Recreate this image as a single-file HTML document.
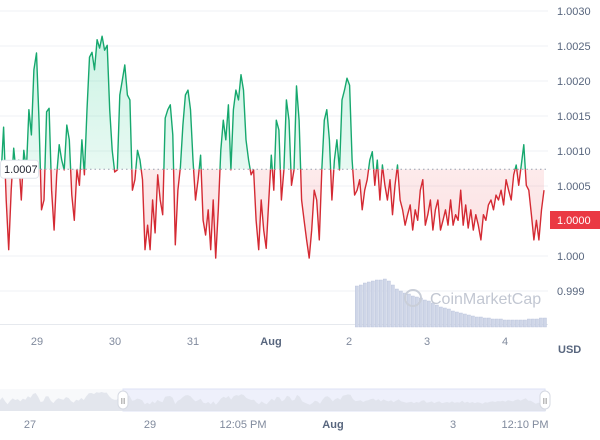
<!DOCTYPE html>
<html><head><meta charset="utf-8"><style>
body{margin:0;background:#fff;width:600px;height:435px;overflow:hidden;font-family:"Liberation Sans",sans-serif}
svg text{font-family:"Liberation Sans",sans-serif}
</style></head><body>
<svg id="c" width="600" height="435" xmlns="http://www.w3.org/2000/svg">
<defs>
<linearGradient id="gg" x1="0" y1="0" x2="0" y2="1"><stop offset="0" stop-color="#16c784" stop-opacity="0.22"/><stop offset="1" stop-color="#16c784" stop-opacity="0.02"/></linearGradient>
<linearGradient id="rg" x1="0" y1="0" x2="0" y2="1"><stop offset="0" stop-color="#ea3943" stop-opacity="0.02"/><stop offset="1" stop-color="#ea3943" stop-opacity="0.16"/></linearGradient>
</defs>
<g id="grid"></g><g id="vol"></g><g id="wm"></g><g id="series"></g><g id="axes"></g><g id="nav"></g>
</svg>
<script>
const values=[1.00066,1.00134,1.00030,0.99959,1.00044,1.00104,1.00066,1.00087,1.00030,1.00101,1.00073,1.00159,1.00123,1.00216,1.00240,1.00144,1.00016,1.00030,1.00156,1.00161,1.00044,0.99987,1.00066,1.00109,1.00087,1.00073,1.00137,1.00116,1.00037,1.00001,1.00073,1.00051,1.00116,1.00066,1.00159,1.00234,1.00241,1.00216,1.00259,1.00247,1.00264,1.00244,1.00251,1.00159,1.00101,1.00070,1.00073,1.00180,1.00201,1.00223,1.00180,1.00173,1.00044,1.00059,1.00101,1.00087,1.00059,0.99959,0.99994,0.99959,1.00030,0.99983,1.00066,1.00030,1.00009,1.00147,1.00159,1.00166,1.00123,0.99966,1.00044,1.00077,1.00137,1.00180,1.00187,1.00159,1.00087,1.00030,1.00059,1.00094,1.00001,0.99980,1.00016,0.99959,1.00030,0.99947,1.00016,1.00101,1.00144,1.00116,1.00166,1.00073,1.00159,1.00187,1.00173,1.00209,1.00187,1.00116,1.00087,1.00066,1.00073,1.00001,0.99959,1.00030,0.99987,0.99961,1.00030,1.00094,1.00044,1.00144,1.00130,1.00030,1.00073,1.00173,1.00144,1.00051,1.00073,1.00193,1.00144,1.00030,1.00001,0.99973,0.99947,0.99987,1.00044,1.00030,0.99973,1.00073,1.00144,1.00159,1.00116,1.00030,1.00087,1.00116,1.00073,1.00173,1.00187,1.00204,1.00194,1.00087,1.00037,1.00044,1.00059,1.00016,1.00044,1.00059,1.00087,1.00099,1.00051,1.00087,1.00030,1.00080,1.00051,1.00030,1.00059,1.00009,1.00051,1.00080,1.00030,1.00016,0.99994,1.00009,1.00023,0.99987,1.00016,1.00001,1.00044,1.00059,0.99994,1.00009,1.00030,0.99987,1.00016,1.00030,0.99987,1.00001,1.00016,0.99994,1.00030,0.99994,1.00009,1.00001,1.00044,0.99994,1.00023,0.99990,1.00016,0.99987,1.00009,0.99994,0.99973,1.00009,1.00001,1.00023,1.00030,1.00016,1.00037,1.00030,1.00044,1.00023,1.00059,1.00044,1.00030,1.00066,1.00080,1.00051,1.00080,1.00109,1.00051,1.00044,1.00009,0.99973,1.00001,0.99973,1.00016,1.00044];
const timeStart=28.54, timeEnd=35.5;
const baseline=1.00074;
const volStart=33.08, volStep=0.0513;
const volumes=[41,42,44,45,46,47,47,48,46,42,38,36,34,33,31,30,29,27,26,24,22,20,19,18,16,15,14,13,12,11,10,10,9,9,8,8,8,7,7,7,7,7,7,8,8,8,9,9];
const yTickVals=[1.0030,1.0025,1.0020,1.0015,1.0010,1.0005,0.9995,0.9990];
const yTickLabels=["1.0030","1.0025","1.0020","1.0015","1.0010","1.0005","1.000","0.999"];
const xTickVals=[29,30,31,32,33,34,35];
const xTickLabels=["29","30","31","Aug","2","3","4"];
const navLabels=["27","29","12:05 PM","Aug","3","12:10 PM"];
const navLabelPos=[0.05,0.25,0.405,0.555,0.755,0.875];

const NS="http://www.w3.org/2000/svg";
const X=t=>37+(t-29)*78;
const Y=v=>221-(v-1.0)*70000;
function el(tag,attrs,parent){const e=document.createElementNS(NS,tag);for(const k in attrs)e.setAttribute(k,attrs[k]);parent.appendChild(e);return e;}
const grid=document.getElementById('grid'),axes=document.getElementById('axes'),series=document.getElementById('series'),vol=document.getElementById('vol'),nav=document.getElementById('nav'),wm=document.getElementById('wm');

yTickVals.forEach((v,i)=>{const y=Y(v);
 const l=el('line',{x1:0,x2:548,y1:y,y2:y,stroke:'#eff2f5','stroke-width':1},grid);
 
 const t=el('text',{x:557,y:y+4,'font-size':11,fill:'#58667e'},axes);t.textContent=yTickLabels[i];
 
});
const bl=el('line',{x1:0,x2:548,y1:324.5,y2:324.5,stroke:'#e6e9ee'},grid);

xTickVals.forEach((v,i)=>{const t=el('text',{x:X(v),y:345,'font-size':11,fill:i==3?'#58667e':'#808a9d','text-anchor':'middle','font-weight':i==3?'bold':'normal'},axes);t.textContent=xTickLabels[i];
 });
const usd=el('text',{x:558,y:353,'font-size':11,'font-weight':'bold',fill:'#58667e'},axes);usd.textContent='USD';


volumes.forEach((v,i)=>{const x=X(volStart+i*volStep);
 const r=el('rect',{x:x,y:327-v,width:3.2,height:v,fill:'#cfd6e8',stroke:'#b8c1d9','stroke-width':0.4},vol);
 });

const wc=el('circle',{cx:413,cy:298,r:8,fill:'none',stroke:'#c9ced8','stroke-width':2},wm);

const wt=el('text',{x:430,y:304,'font-size':16,fill:'#c2c7d2'},wm);wt.textContent='CoinMarketCap';


const n=values.length,step=(timeEnd-timeStart)/(n-1);
const pts=values.map((v,i)=>[X(timeStart+i*step),Y(v)]);
const by=Y(baseline);
const line='M'+pts.map(p=>p[0].toFixed(1)+','+p[1].toFixed(1)).join('L');
const area=line+`L${pts[n-1][0]},${by}L${pts[0][0]},${by}Z`;
const d=el('defs',{},series);
const ca=el('clipPath',{id:'above'},d);el('rect',{x:0,y:0,width:600,height:by},ca);
const cb=el('clipPath',{id:'below'},d);el('rect',{x:0,y:by,width:600,height:400},cb);
const ga=el('g',{'clip-path':'url(#above)'},series);
const a1=el('path',{d:area,fill:'url(#gg)'},ga);
const l1=el('path',{d:line,fill:'none',stroke:'#16a86e','stroke-width':1.4,'stroke-linejoin':'round'},ga);
const gb=el('g',{'clip-path':'url(#below)'},series);
const a2=el('path',{d:area,fill:'url(#rg)'},gb);
const l2=el('path',{d:line,fill:'none',stroke:'#d42a33','stroke-width':1.4,'stroke-linejoin':'round'},gb);
const bline=el('line',{x1:0,x2:548,y1:by,y2:by,stroke:'#9aa2b1','stroke-dasharray':'1.5,3'},series);


const lt=el('rect',{x:0.5,y:by-9,width:38,height:18,rx:3,fill:'#fff',stroke:'#dfe3ea'},axes);

const ltt=el('text',{x:4,y:by+4,'font-size':11,fill:'#222531'},axes);ltt.textContent=baseline.toFixed(4);

const rt=el('rect',{x:550,y:211,width:50,height:18,fill:'#ea3943'},axes);

const rtt=el('text',{x:557,y:224,'font-size':11,fill:'#fff'},axes);rtt.textContent='1.0000';


const nb=el('rect',{x:0,y:389,width:546,height:22,fill:'#f8f9fb'},nav);
const sel=el('rect',{x:123,y:389,width:422,height:22,fill:'#eef0fb',stroke:'#dde2f5'},nav);
const nx=i=>i/(n-1)*546, ny=v=>405-(v-0.9994)*4000;
let nd='M0,411'+values.map((v,i)=>'L'+nx(i).toFixed(1)+','+Math.min(410,ny(v)).toFixed(1)).join('')+'L546,411Z';
const na=el('path',{d:nd,fill:'#dde1ea',opacity:0.8},nav);
[123,545].forEach(hx=>{const h=el('rect',{x:hx-5,y:391,width:10,height:18,rx:5,fill:'#fff',stroke:'#d5d9e2'},nav);
 
 const ht=el('text',{x:hx,y:404,'font-size':8,fill:'#777','text-anchor':'middle'},nav);ht.textContent='II';
 });
navLabels.forEach((s,i)=>{const t=el('text',{x:navLabelPos[i]*600,y:428,'font-size':11,fill:i==3?'#58667e':'#808a9d','text-anchor':'middle','font-weight':i==3?'bold':'normal'},nav);t.textContent=s;
 });
</script>
</body></html>
